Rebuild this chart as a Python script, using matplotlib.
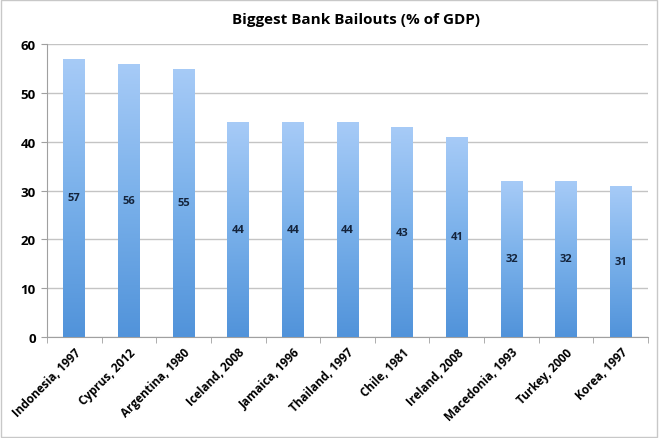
import numpy as np
import matplotlib.pyplot as plt
from matplotlib.colors import LinearSegmentedColormap
from matplotlib.patches import Rectangle

categories = ["Indonesia, 1997", "Cyprus, 2012", "Argentina, 1980", "Iceland, 2008",
              "Jamaica, 1996", "Thailand, 1997", "Chile, 1981", "Ireland, 2008",
              "Macedonia, 1993", "Turkey, 2000", "Korea, 1997"]
values = [57, 56, 55, 44, 44, 44, 43, 41, 32, 32, 31]

plt.rcParams['font.family'] = ['Open Sans', 'DejaVu Sans']

fig = plt.figure(figsize=(6.6, 4.39), dpi=100, facecolor="white")
ax = fig.add_axes([0.071, 0.230, 0.911, 0.667])

x = np.arange(len(categories))
bars = ax.bar(x, values, width=0.4, color="none", edgecolor="none", zorder=3)

# vertical gradient inside each bar (dark at bottom, light at top)
cmap = LinearSegmentedColormap.from_list("bar", ["#5193da", "#79b0ea", "#a7cbf7"])
grad = np.linspace(0, 1, 256).reshape(-1, 1)
for bar in bars:
    x0, w, h = bar.get_x(), bar.get_width(), bar.get_height()
    im = ax.imshow(grad, cmap=cmap, origin="lower", aspect="auto",
                   extent=(x0, x0 + w, 0, h), zorder=3)
    im.set_clip_path(bar)
    ax.text(x0 + w / 2, h / 2, f"{h:g}", ha="center", va="center",
            fontsize=8, fontweight="bold", color="#14243c", zorder=4)

ax.set_xlim(-0.5, len(categories) - 0.5)
ax.set_ylim(0, 60)
ax.set_yticks(range(0, 61, 10))
ax.yaxis.grid(True, color="#c4c4c4", linewidth=1.0, zorder=0)
ax.set_axisbelow(True)

ax.set_xticks(x)
ax.set_xticklabels(categories, rotation=45, ha="right", rotation_mode="anchor",
                   fontsize=8.5, fontweight="bold")
ax.tick_params(axis="x", length=0, pad=6)
ax.set_xticks(np.arange(-0.5, len(categories)), minor=True)
ax.tick_params(axis="x", which="minor", length=4, color="#a0a0a0", direction="out")
ax.tick_params(axis="y", length=4, color="#a0a0a0", labelsize=9.5, pad=4)
for lab in ax.get_yticklabels():
    lab.set_fontweight("bold")

for s in ["top", "right"]:
    ax.spines[s].set_visible(False)
ax.spines["left"].set_color("#a0a0a0")
ax.spines["bottom"].set_color("#a0a0a0")

fig.text(0.54, 0.955, "Biggest Bank Bailouts (% of GDP)", ha="center", va="center",
         fontsize=11, fontweight="bold")

fig.patches.append(Rectangle((0.002, 0.003), 0.994, 0.994, transform=fig.transFigure,
                             fill=False, edgecolor="#c8c8c8", linewidth=1))

fig.savefig("out.png", dpi=100, facecolor="white")
